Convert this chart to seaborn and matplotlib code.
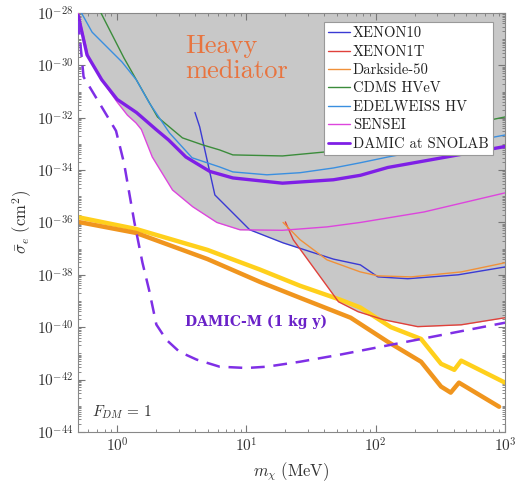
import numpy as np
import pandas as pd
import seaborn as sns
import matplotlib.pyplot as plt
from matplotlib.ticker import LogLocator, NullFormatter
from matplotlib.lines import Line2D

# data: mass in MeV, cross section as log10(cm^2)
xenon10_m = [4.0, 4.35, 5.7, 10.6, 19.2, 47, 76, 104, 177, 434, 1000]
xenon10_s = [-31.8, -32.35, -34.95, -36.28, -36.78, -37.4, -37.62, -38.08, -38.15, -38.0, -37.7]

xenon1t_m = [20, 23, 51.5, 73, 116, 211, 458, 1000]
xenon1t_s = [-35.98, -36.66, -39.03, -39.41, -39.72, -39.98, -39.91, -39.64]

darkside_m = [19.2, 26, 42, 76, 104, 188, 458, 1000]
darkside_s = [-36.0, -36.66, -37.43, -37.89, -38.04, -38.08, -37.89, -37.54]

cdms_m = [0.75, 1.13, 2.05, 3.2, 4.6, 6.2, 7.85, 19, 42, 100, 300, 1000]
cdms_s = [-28.0, -29.72, -31.97, -32.77, -33.04, -33.23, -33.42, -33.46, -33.3, -33.0, -32.5, -31.97]

edelweiss_m = [0.53, 0.64, 1.09, 1.41, 1.77, 2.54, 3.8, 6.2, 7.85, 14.4, 26, 47, 76, 124, 1000]
edelweiss_s = [-28.0, -28.73, -29.87, -30.56, -31.43, -32.58, -33.53, -33.88, -34.07, -34.18, -34.1,
               -33.92, -33.72, -33.5, -32.66]

sensei_m = [0.5, 0.6, 0.77, 1.0, 1.2, 1.4, 1.54, 1.87, 2.68, 3.84, 5.9, 8.9, 19, 42, 76, 236, 1000]
sensei_s = [-28.0, -29.7, -30.6, -31.4, -31.9, -32.2, -32.45, -33.5, -34.76, -35.4, -36.0, -36.28,
            -36.3, -36.17, -36.0, -35.6, -34.87]

damic_m = [0.5, 0.585, 0.76, 1.0, 1.41, 2.0, 2.5, 3.4, 5.2, 7.85, 19, 47, 76, 124, 1000]
damic_s = [-28.1, -29.6, -30.55, -31.3, -31.8, -32.45, -32.85, -33.5, -34.05, -34.3, -34.5, -34.37,
           -34.2, -33.9, -33.1]

damicm_m = [0.5, 0.55, 0.76, 0.98, 1.13, 1.36, 1.57, 1.77, 2.01, 2.4, 3.03, 4.12, 6.2, 10, 14.4, 26, 53, 1000]
damicm_s = [-28.3, -30.44, -31.59, -32.5, -33.73, -36.0, -37.54, -38.6, -39.9, -40.48, -40.94, -41.24,
            -41.51, -41.56, -41.51, -41.32, -41.05, -39.83]

yellow_m = [0.5, 1.4, 5, 12.7, 26, 53, 76, 131, 224, 320, 405, 458, 1000]
yellow_s = [-35.8, -36.25, -37.05, -37.8, -38.42, -38.95, -39.25, -40.0, -40.45, -41.4, -41.63, -41.28, -42.12]

orange_m = [0.5, 1.4, 5, 12.7, 26, 64, 124, 224, 320, 380, 440, 900]
orange_s = [-35.98, -36.4, -37.4, -38.27, -38.88, -39.64, -40.56, -41.32, -42.27, -42.5, -42.12, -43.04]

limits = [
    ("XENON10", xenon10_m, xenon10_s, "#3a3ad4", 1.0),
    ("XENON1T", xenon1t_m, xenon1t_s, "#e0413b", 1.0),
    ("Darkside-50", darkside_m, darkside_s, "#f0913a", 1.0),
    ("CDMS HVeV", cdms_m, cdms_s, "#3b8c3b", 1.0),
    ("EDELWEISS HV", edelweiss_m, edelweiss_s, "#3a8fe0", 1.0),
    ("SENSEI", sensei_m, sensei_s, "#dd45dd", 1.0),
    ("DAMIC at SNOLAB", damic_m, damic_s, "#7f1fe6", 2.4),
]

sns.set_style("ticks")
plt.rcParams['font.family'] = ['cmr10', 'DejaVu Serif']
plt.rcParams['mathtext.fontset'] = 'cm'
plt.rcParams['axes.formatter.use_mathtext'] = True
plt.rcParams['axes.unicode_minus'] = False

fig = plt.figure(figsize=(5.18, 4.82), dpi=100)
ax = fig.add_axes([0.151, 0.104, 0.824, 0.869])
ax.set(xscale='log', yscale='log')

# grey excluded region above the lowest existing limit
grid = np.logspace(np.log10(0.5), 3, 600)
env = np.full_like(grid, np.inf)
for name, m, s, c, lw in limits:
    lm = np.log10(m)
    v = np.interp(np.log10(grid), lm, s, left=np.inf, right=np.inf)
    env = np.minimum(env, v)
ax.fill_between(grid, 10.0 ** env, 1e-28, color="#c8c8c8", lw=0, zorder=0)

for name, m, s, c, lw in limits:
    df = pd.DataFrame({"m": m, "s": 10.0 ** np.array(s)})
    sns.lineplot(data=df, x="m", y="s", ax=ax, color=c, lw=lw, sort=False, estimator=None, zorder=3)

sns.lineplot(x=yellow_m, y=10.0 ** np.array(yellow_s), ax=ax, color="#ffd01c", lw=3.2,
             sort=False, estimator=None, zorder=2)
sns.lineplot(x=orange_m, y=10.0 ** np.array(orange_s), ax=ax, color="#f0951e", lw=3.2,
             sort=False, estimator=None, zorder=2)
sns.lineplot(x=damicm_m, y=10.0 ** np.array(damicm_s), ax=ax, color="#7f2fe6", lw=1.8,
             dashes=(5.5, 3.5), sort=False, estimator=None, zorder=4)

ax.set_xlim(0.5, 1000)
ax.set_ylim(1e-44, 1e-28)
ax.set_yticks([10.0 ** k for k in range(-44, -27, 2)])
ax.yaxis.set_minor_locator(LogLocator(base=10, subs=np.arange(1, 10), numticks=100))
ax.yaxis.set_minor_formatter(NullFormatter())
ax.xaxis.set_major_locator(LogLocator(base=10, numticks=10))
ax.xaxis.set_minor_locator(LogLocator(base=10, subs=np.arange(2, 10), numticks=100))
ax.xaxis.set_minor_formatter(NullFormatter())
ax.tick_params(which='both', direction='in', top=True, right=True, colors='#777777',
               labelcolor='#333333', labelsize=11)
ax.tick_params(which='major', length=5)
ax.tick_params(which='minor', length=2.5)
for sp in ax.spines.values():
    sp.set_color('#888888')

ax.set_xlabel(r"$m_\chi\ (\mathrm{MeV})$", fontsize=12, color='#333333')
ax.set_ylabel(r"$\bar{\sigma}_e\ (\mathrm{cm}^2)$", fontsize=12, color='#333333', labelpad=2)

ax.text(0.25, 0.95, "Heavy\nmediator", transform=ax.transAxes, fontsize=19, color="#e8743f",
        va='top', ha='left', linespacing=1.1)
ax.text(0.25, 0.262, "DAMIC-M (1 kg y)", transform=ax.transAxes, fontsize=10, color="#6a22c8",
        family='DejaVu Serif', weight='bold', va='center', ha='left')
ax.text(0.033, 0.048, r"$F_{DM}\,=\,1$", transform=ax.transAxes, fontsize=11, color='#333333',
        va='center', ha='left')

handles = [Line2D([], [], color=c, lw=(2.0 if lw > 2 else 1.0)) for name, m, s, c, lw in limits]
labels = [name for name, m, s, c, lw in limits]
leg = ax.legend(handles, labels, loc='upper right', bbox_to_anchor=(0.972, 0.978), fontsize=10.5,
                frameon=True, fancybox=False, framealpha=1, edgecolor='#999999',
                handlelength=1.5, handletextpad=0.2, labelspacing=0.32, borderpad=0.3,
                borderaxespad=0)
leg.get_frame().set_linewidth(0.8)
for t in leg.get_texts():
    t.set_color('#222222')

fig.savefig("out.png", dpi=100)
